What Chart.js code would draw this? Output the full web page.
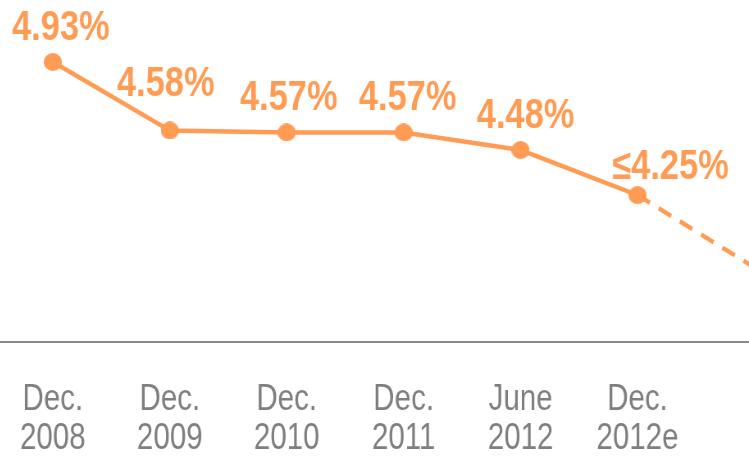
<!DOCTYPE html>
<html>
<head>
<meta charset="utf-8">
<script src="https://cdn.jsdelivr.net/npm/chart.js@4"></script>
<style>
  html, body { margin: 0; padding: 0; background: #fff; overflow: hidden; }
  /* canvas drawn wide and squeezed horizontally to imitate a narrow font */
  #wrap {
    position: absolute; left: -12px; top: 0;
    width: 1006px; height: 457px;
    transform: scaleX(0.82); transform-origin: 0 0;
  }
</style>
</head>
<body>
<div id="wrap"><canvas id="rateChart"></canvas></div>
<script>
// Chart data
const categories = [
  ['Dec.', '2008'], ['Dec.', '2009'], ['Dec.', '2010'], ['Dec.', '2011'],
  ['June', '2012'], ['Dec.', '2012e'], ''
];
const rates = [4.93, 4.58, 4.57, 4.57, 4.48, 4.25, 3.88];
const rateLabels = ['4.93%', '4.58%', '4.57%', '4.57%', '4.48%', '\u22644.25%', ''];

const SX = 0.82; // horizontal squeeze of the canvas
const ORANGE = '#FF9B52';
const FONT = "'Liberation Sans', Arial, sans-serif";

// label nudges (screen px)
const labelShift = [8, -4, 2, 4, 5, 33, 0];
const labelLift = [22, 34, 22, 22, 22, 16, 0];

// round marker, pre-stretched so it ends up a circle after the squeeze
function makeDot(r) {
  const c = document.createElement('canvas');
  const w = Math.round(2 * r / SX), h = 2 * r;
  c.width = w; c.height = h;
  const g = c.getContext('2d');
  g.fillStyle = ORANGE;
  g.beginPath();
  g.ellipse(w / 2, h / 2, w / 2, h / 2, 0, 0, Math.PI * 2);
  g.fill();
  return c;
}
const dot = makeDot(9);

// value labels above points
const valueLabels = {
  id: 'valueLabels',
  afterDatasetsDraw(chart) {
    const ctx = chart.ctx;
    const meta = chart.getDatasetMeta(0);
    ctx.save();
    ctx.fillStyle = ORANGE;
    ctx.font = 'bold 42px ' + FONT;
    ctx.textAlign = 'center';
    ctx.textBaseline = 'alphabetic';
    meta.data.forEach((pt, i) => {
      if (!rateLabels[i]) return;
      ctx.fillText(rateLabels[i], pt.x + labelShift[i] / SX, pt.y - labelLift[i]);
    });
    ctx.restore();
  }
};

const ctx = document.getElementById('rateChart').getContext('2d');
new Chart(ctx, {
  type: 'line',
  data: {
    labels: categories,
    datasets: [{
      data: rates,
      borderColor: ORANGE,
      backgroundColor: ORANGE,
      borderWidth: 4.5,
      pointStyle: rates.map((v, i) => (i === rates.length - 1 ? false : dot)),
      pointRadius: 9,
      tension: 0,
      segment: {
        borderDash: c => (c.p1DataIndex === rates.length - 1 ? [17, 12] : undefined)
      }
    }]
  },
  options: {
    responsive: true,
    maintainAspectRatio: false,
    animation: false,
    layout: { autoPadding: false, padding: 0 },
    scales: {
      x: {
        offset: true,
        grid: { display: false, drawTicks: false },
        border: { display: true, color: '#888888', width: 2 },
        ticks: {
          color: '#7F7F7F',
          padding: 39,
          maxRotation: 0,
          autoSkip: false,
          font: { family: FONT, size: 36, lineHeight: 1.08 }
        },
        afterFit(scale) { scale.height = 115; }
      },
      y: {
        display: false,
        min: 3.5,
        max: 5.246
      }
    },
    plugins: {
      legend: { display: false },
      tooltip: { enabled: false }
    }
  },
  plugins: [valueLabels]
});
</script>
</body>
</html>
